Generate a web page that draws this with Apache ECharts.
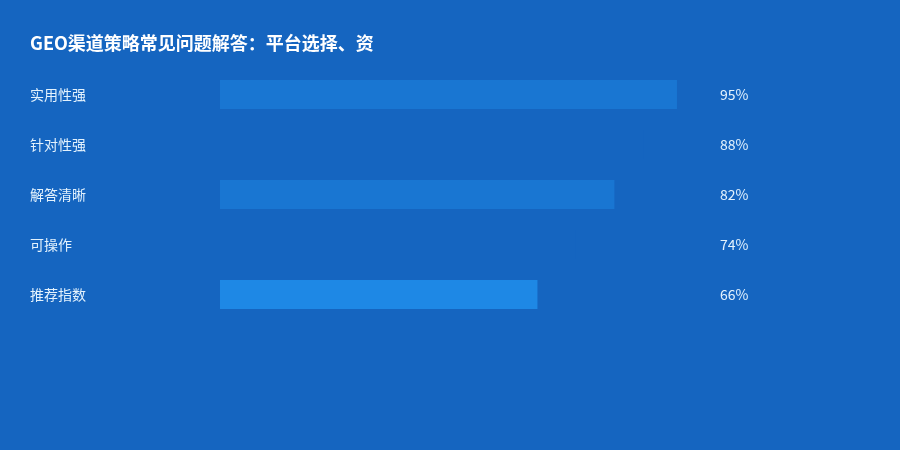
<!DOCTYPE html>
<html><head><meta charset="utf-8">
<script src="https://cdn.jsdelivr.net/npm/echarts@6/dist/echarts.min.js"></script>
<style>html,body{margin:0;padding:0;background:#1565C0;}#c{width:900px;height:450px;}</style>
</head><body><div id="c"></div>
<script>
var titleText = 'GEO渠道策略常见问题解答：平台选择、资';
var categories = ['实用性强', '针对性强', '解答清晰', '可操作', '推荐指数'];
var values = [95, 88, 82, 74, 66];
var barColors = ['#1976D2', '#1565C0', '#1976D2', '#1565C0', '#1E88E5'];

var chart = echarts.init(document.getElementById('c'));
chart.setOption({
  backgroundColor: '#1565C0',
  animation: false,
  title: {
    text: titleText, left: 25, top: 29,
    textStyle: { color: '#FFFFFF', fontSize: 18, fontWeight: 'bold', fontFamily: 'Noto Sans CJK SC' }
  },
  grid: { left: 220, width: 481, top: 69.5, height: 250 },
  xAxis: { type: 'value', min: 0, max: 100, show: false },
  yAxis: [{
    type: 'category', data: categories, inverse: true,
    axisLine: { show: false }, axisTick: { show: false }, splitLine: { show: false },
    axisLabel: { align: 'left', margin: 190, color: '#E3F2FD', fontSize: 14, fontFamily: 'Noto Sans CJK SC', padding: [0, 0, 2, 0] }
  }, {
    type: 'category', data: values.map(function (v) { return v + '%'; }), inverse: true, position: 'right',
    axisLine: { show: false }, axisTick: { show: false }, splitLine: { show: false },
    axisLabel: { align: 'left', margin: 19, color: '#E3F2FD', fontSize: 14, fontFamily: 'Noto Sans CJK SC', padding: [0, 0, 2, 0] }
  }],
  series: [{
    type: 'bar', barWidth: 29, yAxisIndex: 0,
    data: values.map(function (v, i) { return { value: v, itemStyle: { color: barColors[i] } }; })
  }]
});
</script></body></html>
